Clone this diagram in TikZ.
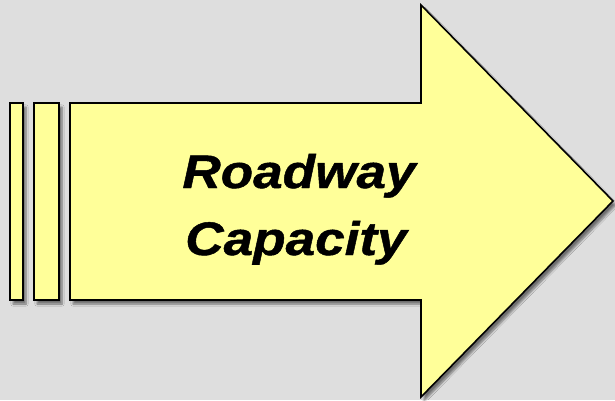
\documentclass[tikz,border=0pt]{standalone}
\usepackage{fontspec}
\setmainfont{Liberation Sans}
\newfontfamily\arrowfont{Liberation Sans}[FakeStretch=1.13,FakeBold=1]
\usetikzlibrary{shadows.blur}
\definecolor{bg}{HTML}{DEDEDE}
\definecolor{arrowfill}{HTML}{FFFF99}
\tikzset{
  yshape/.style={draw=black, line width=1.6pt, fill=arrowfill, line join=miter,
    blur shadow={shadow xshift=3pt, shadow yshift=-4pt, shadow blur steps=6, shadow opacity=50}},
  ytext/.style={font=\arrowfont\fontsize{47}{56}\selectfont\bfseries\itshape, inner sep=0pt, anchor=base}
}
\begin{document}
\begin{tikzpicture}[x=1pt,y=1pt]
\fill[bg] (0,0) rectangle (615,400);
\useasboundingbox (0,0) rectangle (615,400);
\path[yshape] (10,297) rectangle (23,100);
\path[yshape] (34,297) rectangle (59,100);
\path[yshape] (70,297) -- (421,297) -- (421,395) -- (613,199) -- (421,3) -- (421,100) -- (70,100) -- cycle;
\node[ytext] (l1) at (299,212) {Roadway};
\node[ytext] (l2) at (296,145) {Capacity};
\end{tikzpicture}
\end{document}
